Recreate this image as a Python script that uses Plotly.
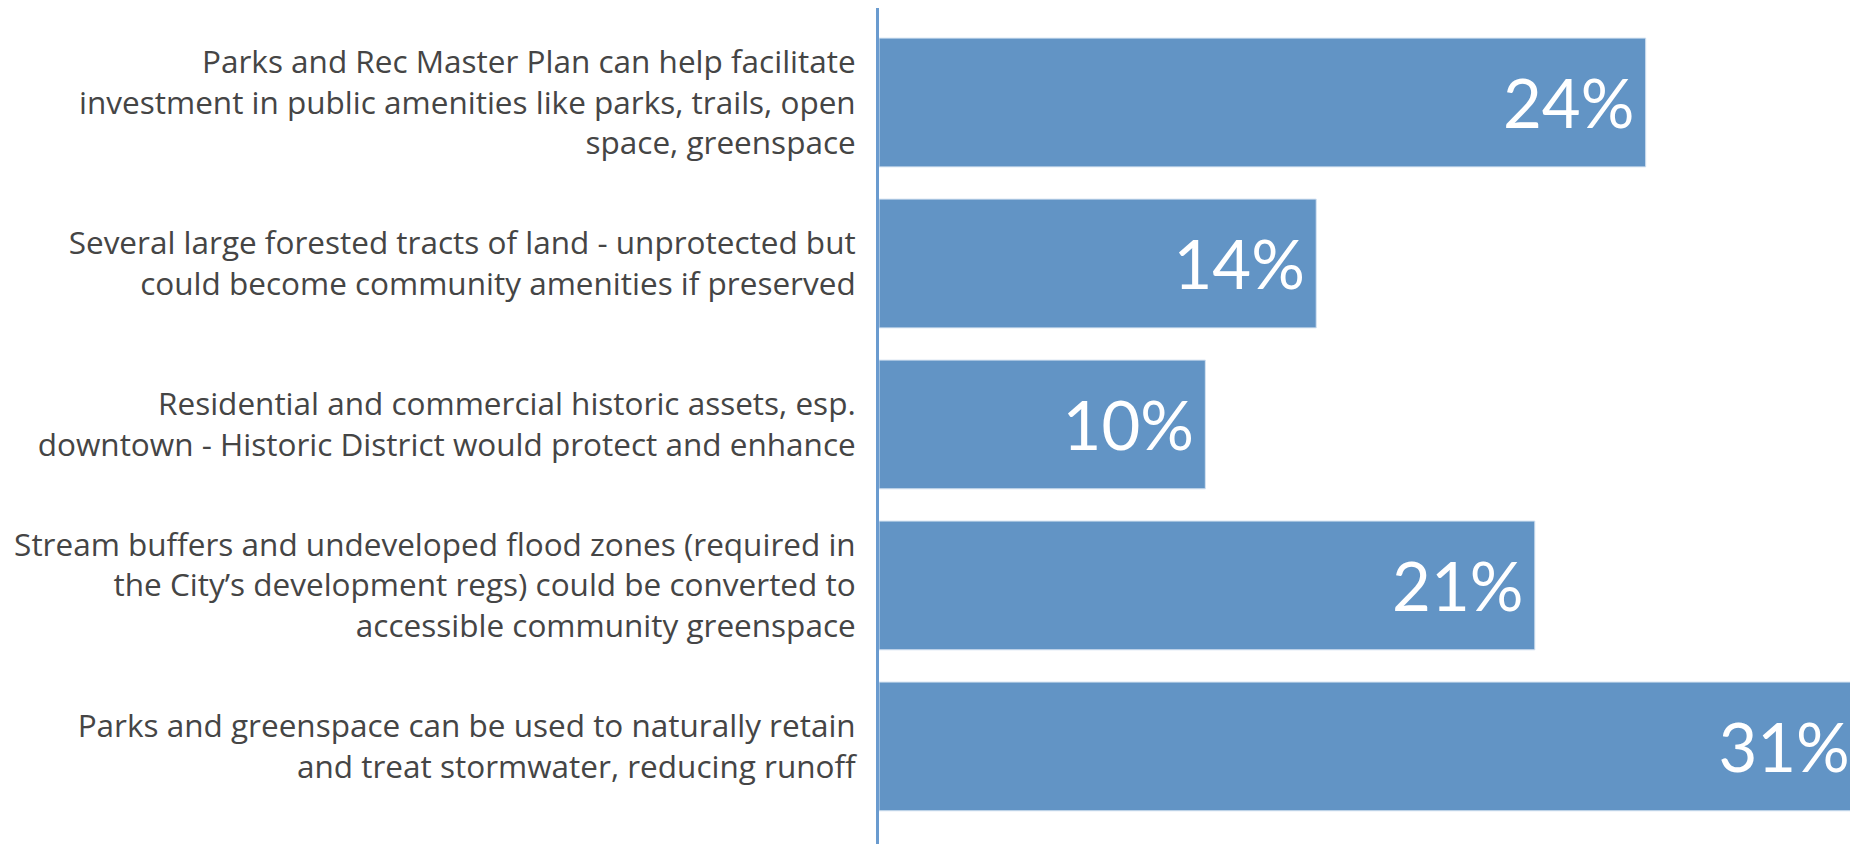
import plotly.graph_objects as go

categories = [
    "Parks and Rec Master Plan can help facilitate<br>investment in public amenities like parks, trails, open<br>space, greenspace",
    "Several large forested tracts of land - unprotected but<br>could become community amenities if preserved",
    "Residential and commercial historic assets, esp.<br>downtown - Historic District would protect and enhance",
    "Stream buffers and undeveloped flood zones (required in<br>the City\u2019s development regs) could be converted to<br>accessible community greenspace",
    "Parks and greenspace can be used to naturally retain<br>and treat stormwater, reducing runoff",
]
values = [24.2, 13.8, 10.3, 20.7, 31.0]

BAR = "#6294c5"

fig = go.Figure(go.Bar(
    x=values,
    y=categories,
    orientation="h",
    marker=dict(color=BAR, line=dict(color="#d6e3f1", width=1)),
    texttemplate="%{x:.0f}%\u2009",
    textposition="inside",
    insidetextanchor="end",
    textfont=dict(family="Lato", size=67, color="white"),
    cliponaxis=True,
    hoverinfo="skip",
))

fig.update_layout(
    width=1850, height=836,
    margin=dict(l=871, r=0, t=0, b=0),
    paper_bgcolor="white", plot_bgcolor="white",
    bargap=0.2,
    showlegend=False,
    font=dict(family="Open Sans", color="#454545"),
)
fig.update_xaxes(range=[0, 30.9], showgrid=False, zeroline=False, showticklabels=False, showline=False)
fig.update_yaxes(
    categoryorder="array", categoryarray=categories,
    range=[4.606, -0.587],
    showgrid=False, zeroline=False,
    showline=True, linecolor="#6a9bcf", linewidth=3,
    ticks="outside", ticklen=14, tickcolor="rgba(0,0,0,0)",
    tickfont=dict(family="Open Sans", size=31.5, color="#454545"),
    automargin=False,
)

fig.write_html("out.html")
